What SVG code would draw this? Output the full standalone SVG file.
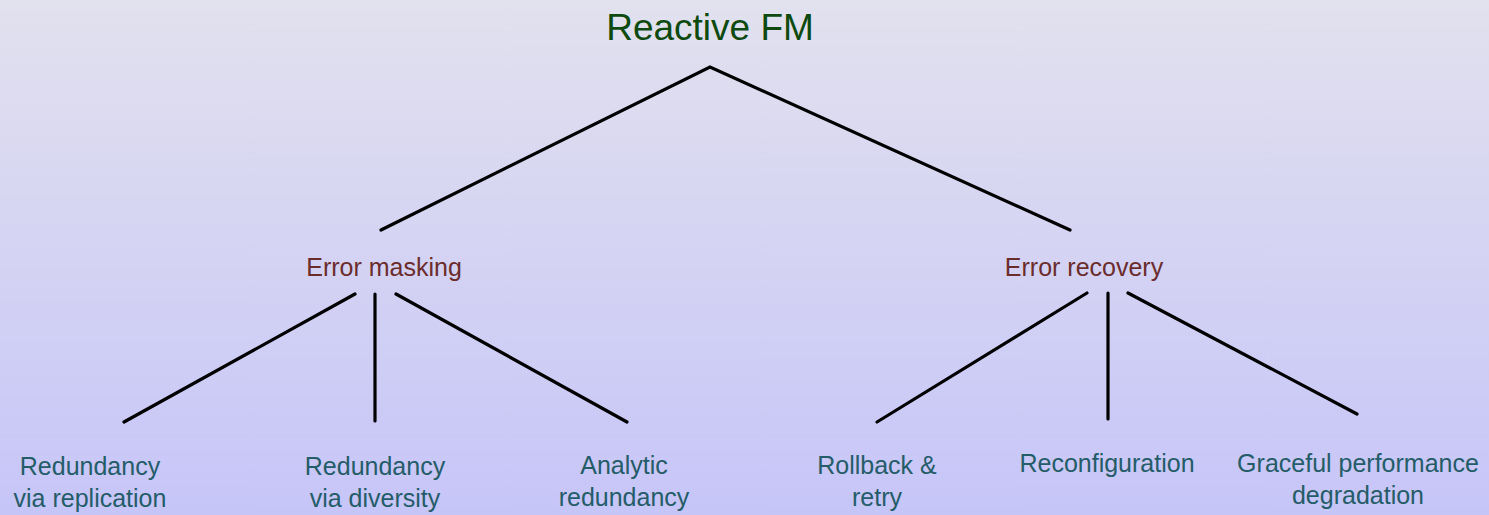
<svg xmlns="http://www.w3.org/2000/svg" width="1489" height="515" viewBox="0 0 1489 515">
<defs>
<linearGradient id="bg" x1="0" y1="0" x2="0" y2="1">
<stop offset="0" stop-color="#E2E1EE"/>
<stop offset="1" stop-color="#C6C5F8"/>
</linearGradient>
<style>
.t{font-family:"Liberation Sans",Arial,sans-serif;text-anchor:middle}
.root{font-size:37px;fill:#0E4A10}
.mid{font-size:25px;fill:#6B2C2C}
.leaf{font-size:25px;fill:#245C68}
.c{stroke:#000;stroke-width:3.2;stroke-linecap:round;fill:none}
</style>
</defs>
<rect width="1489" height="515" fill="url(#bg)"/>
<g id="connectors">
<polyline class="c" points="381,230 710,67 1070,230"/>
<line class="c" x1="355" y1="294" x2="124" y2="422"/>
<line class="c" x1="375" y1="294" x2="375" y2="421"/>
<line class="c" x1="396" y1="294" x2="627" y2="422"/>
<line class="c" x1="1087" y1="293" x2="877" y2="422"/>
<line class="c" x1="1108" y1="293" x2="1108" y2="419"/>
<line class="c" x1="1128" y1="293" x2="1357" y2="414"/>
</g>
<g id="reactive-fm"><text class="t root" x="710" y="40">Reactive FM</text></g>
<g id="error-masking"><text class="t mid" x="384" y="276">Error masking</text></g>
<g id="error-recovery"><text class="t mid" x="1084" y="276">Error recovery</text></g>
<g id="redundancy-replication"><text class="t leaf" x="90" y="475">Redundancy</text><text class="t leaf" x="90" y="507">via replication</text></g>
<g id="redundancy-diversity"><text class="t leaf" x="375" y="475">Redundancy</text><text class="t leaf" x="375" y="507">via diversity</text></g>
<g id="analytic-redundancy"><text class="t leaf" x="624" y="474">Analytic</text><text class="t leaf" x="624" y="506">redundancy</text></g>
<g id="rollback-retry"><text class="t leaf" x="877" y="474">Rollback &amp;</text><text class="t leaf" x="877" y="506">retry</text></g>
<g id="reconfiguration"><text class="t leaf" x="1107" y="472">Reconfiguration</text></g>
<g id="graceful-degradation"><text class="t leaf" x="1358" y="472">Graceful performance</text><text class="t leaf" x="1358" y="504">degradation</text></g>
</svg>
